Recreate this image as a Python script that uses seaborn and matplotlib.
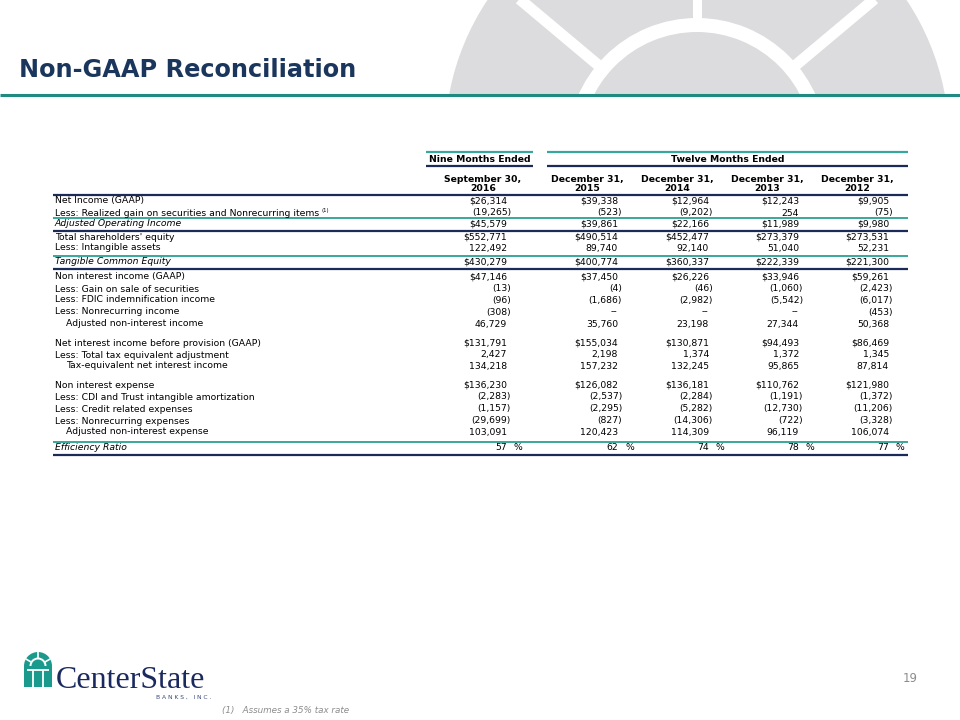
import numpy as np
import pandas as pd
import matplotlib
matplotlib.use("Agg")
import matplotlib.pyplot as plt
import matplotlib.patches as mpatches
import seaborn as sns

# ---- data ----
row_labels = ["Net Income (GAAP)",
              "Less: Realized gain on securities and Nonrecurring items",
              "Adjusted Operating Income",
              "Total shareholders' equity",
              "Less: Intangible assets",
              "Tangible Common Equity",
              "Non interest income (GAAP)",
              "Less: Gain on sale of securities",
              "Less: FDIC indemnification income",
              "Less: Nonrecurring income",
              "Adjusted non-interest income",
              "Net interest income before provision (GAAP)",
              "Less: Total tax equivalent adjustment",
              "Tax-equivalent net interest income",
              "Non interest expense",
              "Less: CDI and Trust intangible amortization",
              "Less: Credit related expenses",
              "Less: Nonrecurring expenses",
              "Adjusted non-interest expense",
              "Efficiency Ratio"]
col_headers = ["September 30,\n2016", "December 31,\n2015", "December 31,\n2014",
               "December 31,\n2013", "December 31,\n2012"]
sep_2016 = [26314, -19265, 45579, 552771, 122492, 430279, 47146, -13, -96, -308, 46729,
            131791, 2427, 134218, 136230, -2283, -1157, -29699, 103091, 57]
dec_2015 = [39338, -523, 39861, 490514, 89740, 400774, 37450, -4, -1686, None, 35760,
            155034, 2198, 157232, 126082, -2537, -2295, -827, 120423, 62]
dec_2014 = [12964, -9202, 22166, 452477, 92140, 360337, 26226, -46, -2982, None, 23198,
            130871, 1374, 132245, 136181, -2284, -5282, -14306, 114309, 74]
dec_2013 = [12243, 254, 11989, 273379, 51040, 222339, 33946, -1060, -5542, None, 27344,
            94493, 1372, 95865, 110762, -1191, -12730, -722, 96119, 78]
dec_2012 = [9905, -75, 9980, 273531, 52231, 221300, 59261, -2423, -6017, -453, 50368,
            86469, 1345, 87814, 121980, -1372, -11206, -3328, 106074, 77]
dollar_rows = [0, 2, 3, 5, 6, 11, 14]
italic_rows = [2, 5, 19]
indent_rows = [10, 13, 18]
pct_row = 19

table = pd.DataFrame({"sep_2016": sep_2016, "dec_2015": dec_2015, "dec_2014": dec_2014,
                      "dec_2013": dec_2013, "dec_2012": dec_2012}, index=row_labels)

# ---- layout ----
NAVY = "#1c2a57"
TEAL = "#3aa79d"
TITLE = "#1b365d"
GRAY = "#dcdcde"

sns.set_theme(style="white")
plt.rcParams["font.family"] = ["DejaVu Sans"]

fig = plt.figure(figsize=(9.6, 7.2), dpi=100)
ax = fig.add_axes([0, 0, 1, 1])
ax.set_xlim(0, 960)
ax.set_ylim(720, 0)
ax.axis("off")

# decorative emblem top right
clip = mpatches.Rectangle((0, 0), 960, 94, transform=ax.transData)
cx, cy = 697, 140
deco = [mpatches.Circle((cx, cy), 252, color=GRAY, lw=0),
        mpatches.Wedge((cx, cy + 8), 130, 0, 360, width=14, color="white", lw=0)]
for p in deco:
    ax.add_patch(p)
    p.set_clip_path(clip)
for ang in [40, 90, 140]:
    a = np.deg2rad(ang)
    ln, = ax.plot([cx + 125 * np.cos(a), cx + 300 * np.cos(a)],
                  [cy + 8 - 125 * np.sin(a), cy + 8 - 300 * np.sin(a)],
                  color="white", lw=6.5 if ang == 90 else 8, solid_capstyle="butt")
    ln.set_clip_path(clip)

ax.text(19, 70, "Non-GAAP Reconciliation", fontsize=17.3, fontweight="bold",
        color=TITLE, va="center", ha="left")
ax.hlines(95, 0, 960, color="#1f8a80", lw=2.2)

# table geometry
fs = 6.65
x_lab = 55
col_right = [511, 622, 713, 803, 893]   # right edge incl. closing paren
col_center = [483, 587, 677, 767, 857]
tbl_l, tbl_r = 53, 908
gaps = [0, 12, 11, 13, 11, 14, 15, 12, 11, 12, 12, 19, 12, 11, 19, 12, 12, 12, 11, 16]
row_y = 201 + np.cumsum(gaps)

# header groups
for (x0, x1, txt) in [(426, 533, "Nine Months Ended"), (547, 908, "Twelve Months Ended")]:
    ax.hlines(152, x0, x1, color=TEAL, lw=1.6)
    ax.hlines(166, x0, x1, color=NAVY, lw=1.6)
    ax.text((x0 + x1) / 2, 159.5, txt, fontsize=fs, fontweight="bold", color="black",
            ha="center", va="center")
for xc, h in zip(col_center, col_headers):
    ax.text(xc, 184, h, fontsize=fs, fontweight="bold", color="black", ha="center",
            va="center", linespacing=1.1)
ax.hlines(194.5, tbl_l, tbl_r, color=NAVY, lw=1.6)

# separators: teal above, navy below summary rows
for r in [2, 5, 19]:
    y = row_y[r]
    ax.hlines(y - 6.5, tbl_l, tbl_r, color=TEAL, lw=1.4)
    ax.hlines(y + 6.5, tbl_l, tbl_r, color=NAVY, lw=1.6)


def fmt(v):
    return f"{abs(v):,}"


for i, lab in enumerate(table.index):
    y = row_y[i]
    style = "italic" if i in italic_rows else "normal"
    xl = x_lab + (11 if i in indent_rows else 0)
    ax.text(xl, y, lab, fontsize=fs, fontstyle=style, color="black", ha="left", va="center")
    if i == 1:
        ax.text(xl + 266, y - 2.5, "(1)", fontsize=3.8, color="black", ha="left", va="center")
    for j, col in enumerate(table.columns):
        v = table.iloc[i, j]
        xr = col_right[j]
        if pd.isna(v):
            ax.text(xr - 5, y, "--", fontsize=fs, color="black", ha="right", va="center")
            continue
        v = int(v)
        if i == pct_row:
            ax.text(xr - 4, y, f"{v}", fontsize=fs, color="black", ha="right", va="center")
            ax.text(xr + 3, y, "%", fontsize=fs, color="black", ha="left", va="center")
            continue
        if v < 0:
            ax.text(xr, y, "(" + fmt(v) + ")", fontsize=fs, color="black",
                    ha="right", va="center")
        else:
            s = ("$" if i in dollar_rows else "") + fmt(v)
            ax.text(xr - 4, y, s, fontsize=fs, color="black", ha="right", va="center")

# logo
LOGO_T = "#1a9a8c"
ax.add_patch(mpatches.Rectangle((24, 666), 28, 21, color=LOGO_T, lw=0))
ax.add_patch(mpatches.Wedge((38, 666), 14, 180, 360, color=LOGO_T, lw=0))
ax.add_patch(mpatches.Wedge((38, 666), 8.5, 180, 360, width=2, color="white", lw=0))
ax.vlines([33, 43], 670, 687, color="white", lw=1.3)
ax.hlines(670, 27, 49, color="white", lw=1.3)
for ang in [30, 90, 150]:
    a = np.deg2rad(ang)
    ax.plot([38 + 8 * np.cos(a), 38 + 14 * np.cos(a)], [666 - 8 * np.sin(a), 666 - 14 * np.sin(a)],
            color="white", lw=1.2)
ax.text(56, 688, "CenterState", fontsize=23, family="Liberation Serif", color="#1b2a5e",
        ha="left", va="baseline")
ax.text(211, 697, "B A N K S ,   I N C .", fontsize=4.3, color="#3b4a7a", ha="right",
        va="center")

ax.text(918, 679, "19", fontsize=8.5, color="#8c8c8c", ha="right", va="center")
ax.text(222, 710, "(1)   Assumes a 35% tax rate", fontsize=6.3, fontstyle="italic",
        color="#8c8c8c", ha="left", va="center")

fig.savefig("out.png", dpi=100)
